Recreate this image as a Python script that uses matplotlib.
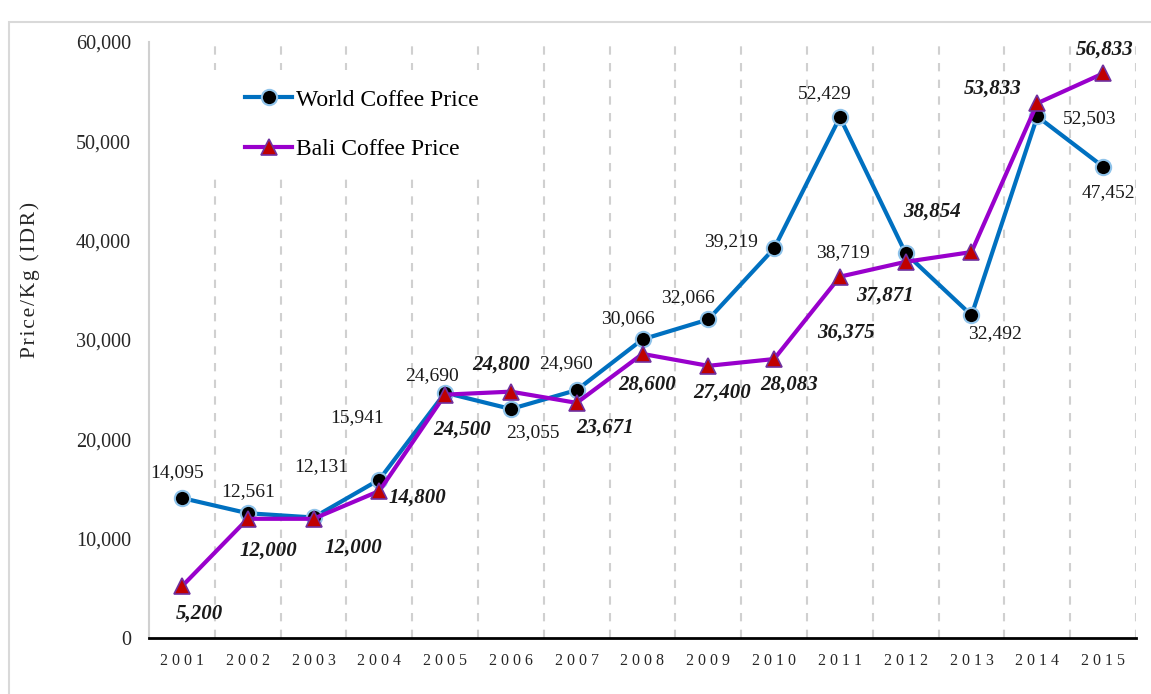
import matplotlib
matplotlib.use("Agg")
import matplotlib.pyplot as plt
from matplotlib.patches import Rectangle
from matplotlib.ticker import FuncFormatter

plt.rcParams['font.family'] = ['Liberation Serif', 'DejaVu Serif']

years = ['2001', '2002', '2003', '2004', '2005', '2006', '2007', '2008',
         '2009', '2010', '2011', '2012', '2013', '2014', '2015']
world_price = [14095, 12561, 12131, 15941, 24690, 23055, 24960, 30066,
               32066, 39219, 52429, 38719, 32492, 52503, 47452]
bali_price = [5200, 12000, 12000, 14800, 24500, 24800, 23671, 28600,
              27400, 28083, 36375, 37871, 38854, 53833, 56833]

# label offsets in pixels (dx, dy), dy upward
world_off = [(-5, 25), (0, 22), (8, 51), (-22, 62), (-13, 17), (22, -24), (-11, 26),
             (-15, 21), (-20, 22), (-43, 7), (-15, 24), (-63, 1), (24, -18), (52, -2), (5, -26)]
bali_off = [(17, -27), (21, -32), (40, -29), (38, -7), (17, -35), (-10, 27), (28, -25),
            (5, -31), (14, -27), (15, -26), (6, -56), (-21, -34), (-39, 40), (-45, 15), (2, 24)]

fig = plt.figure(figsize=(11.51, 6.94), dpi=100)
ax = fig.add_axes([149 / 1151, 1 - 638 / 694, 987 / 1151, 596 / 694])

x = list(range(len(years)))

# dashed separators between categories
ax.vlines([i + 0.5 for i in x], 0, 60000, colors='#D0D0D0', linestyles=(0, (4, 4)),
          linewidth=1.5, zorder=1)
# blank area behind legend
ax.add_patch(Rectangle((0.056, 0.78), 0.322, 0.173, transform=ax.transAxes,
                       facecolor='white', edgecolor='none', zorder=1.5))

ax.plot(x, world_price, color='#0070C0', linewidth=3, marker='o', markersize=11,
        markerfacecolor='black', markeredgecolor='#8FC3EA', markeredgewidth=1.5,
        label='World Coffee Price', zorder=3)
ax.plot(x, bali_price, color='#9900CC', linewidth=3, marker='^', markersize=12,
        markerfacecolor='#C00000', markeredgecolor='#7030A0', markeredgewidth=1.2,
        label='Bali Coffee Price', zorder=4)

for i, v in enumerate(world_price):
    ax.annotate(f'{v:,}', (i, v), xytext=world_off[i], textcoords='offset pixels',
                ha='center', va='center', fontsize=14, color='#1a1a1a', zorder=5)
for i, v in enumerate(bali_price):
    ax.annotate(f'{v:,}', (i, v), xytext=bali_off[i], textcoords='offset pixels',
                ha='center', va='center', fontsize=15, fontweight='bold',
                fontstyle='italic', color='#1a1a1a', zorder=5)

ax.set_xlim(-0.5, 14.5)
ax.set_ylim(0, 60000)
ax.set_xticks(x)
ax.set_xticklabels([' '.join(y) for y in years], fontsize=11.5, color='#262626')
ax.set_yticks(range(0, 60001, 10000))
ax.yaxis.set_major_formatter(FuncFormatter(lambda v, p: f'{int(v):,}'))
ax.tick_params(axis='y', length=0, pad=13, labelsize=14.5, labelcolor='#262626')
ax.tick_params(axis='x', length=0, pad=11)

for s in ['top', 'right']:
    ax.spines[s].set_visible(False)
ax.spines['left'].set_color('#D0D0D0')
ax.spines['left'].set_linewidth(1.5)
ax.spines['bottom'].set_color('black')
ax.spines['bottom'].set_linewidth(2)

leg = ax.legend(loc='upper left', bbox_to_anchor=(0.0973, 0.921), frameon=False,
                fontsize=17, borderpad=0, borderaxespad=0, handlelength=2.0,
                handletextpad=0.15, labelspacing=1.2)
leg.set_zorder(6)

fig.text(30 / 1151, 1 - 280 / 694, '\u200a'.join('Price/Kg (IDR)'), rotation=90,
         ha='center', va='center', fontsize=15.5, color='#262626')

fig.patches.append(Rectangle((9 / 1151, -0.05), 1.2, 1.034 - 11 / 694,
                             transform=fig.transFigure, fill=False,
                             edgecolor='#D9D9D9', linewidth=1.5))

fig.savefig('out.png', dpi=100)
